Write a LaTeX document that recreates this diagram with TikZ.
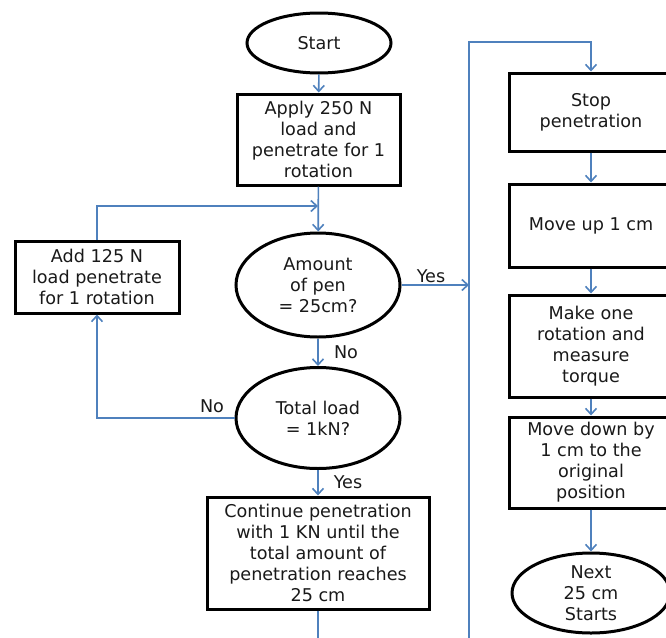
\documentclass[tikz,border=0pt]{standalone}
\usepackage{fontspec}
\setmainfont{DejaVu Sans}
\usetikzlibrary{shapes.geometric,arrows.meta}
\definecolor{flowblue}{HTML}{4F81BD}
\begin{document}
\begin{tikzpicture}[x=1pt,y=-1pt,
  every node/.style={font=\fontsize{17.6}{21}\selectfont, align=center, text=black!90},
  procbox/.style={draw=black, line width=3pt, rectangle, inner sep=0pt},
  termin/.style={draw=black, line width=3pt, ellipse, inner sep=0pt},
  conn/.style={draw=flowblue, line width=1.6pt},
  arr/.style={conn, -{Straight Barb[length=6pt,width=11pt,line width=1.6pt]}},
  lbl/.style={inner sep=0pt}]
\useasboundingbox (0,0) rectangle (666,637);
\clip (0,0) rectangle (666,637);
% left column
\node[termin, minimum width=144pt, minimum height=60pt] (start) at (319,43) {Start};
\node[procbox, minimum width=163pt, minimum height=91pt] (apply) at (318.5,139.5) {Apply 250 N\\load and\\penetrate for 1\\rotation};
\node[procbox, minimum width=164pt, minimum height=72pt] (add) at (97,277) {Add 125 N\\load penetrate\\for 1 rotation};
\node[termin, minimum width=164pt, minimum height=104pt] (amount) at (318,285) {Amount\\of pen\\= 25cm?};
\node[termin, minimum width=164pt, minimum height=101pt] (total) at (318,418) {Total load\\= 1kN?};
\node[procbox, minimum width=222pt, minimum height=112pt] (cont) at (318,553) {Continue penetration\\with 1 KN until the\\total amount of\\penetration reaches\\25 cm};
% right column
\node[procbox, minimum width=164pt, minimum height=78pt] (stop) at (591,112) {Stop\\penetration};
\node[procbox, minimum width=164pt, minimum height=83pt] (moveup) at (591,225.5) {Move up 1 cm};
\node[procbox, minimum width=164pt, minimum height=102pt] (make) at (591,346) {Make one\\rotation and\\measure\\torque};
\node[procbox, minimum width=164pt, minimum height=91pt] (movedown) at (591,462.5) {Move down by\\1 cm to the\\original\\position};
\node[termin, minimum width=158pt, minimum height=80pt] (next) at (591,593) {Next\\25 cm\\Starts};
% helper coordinates
\coordinate (loopend) at (318,206);
\coordinate (vtop) at (469,42);
\coordinate (vbot) at (469,645);
\coordinate (cbot) at (318,645);
% connectors
\draw[arr] (start) -- (apply);
\draw[arr] (apply) -- (amount);
\draw[arr] (add.north) |- (loopend);
\draw[arr] (amount) -- (total);
\draw[arr] (total.west) -| (add.south);
\draw[arr] (amount.east) -- (amount.east -| vtop);
\draw[arr] (total) -- (cont);
\draw[conn] (cont) -- (cbot);
\draw[arr] (vbot) -- (vtop) -| (stop.north);
\draw[arr] (stop) -- (moveup);
\draw[arr] (moveup) -- (make);
\draw[arr] (make) -- (movedown);
\draw[arr] (movedown) -- (next);
% labels
\node[lbl] (lyes1) at (431,276) {Yes};
\node[lbl] (lno1) at (346,352) {No};
\node[lbl] (lno2) at (212,406) {No};
\node[lbl] (lyes2) at (348,482) {Yes};
\end{tikzpicture}
\end{document}
